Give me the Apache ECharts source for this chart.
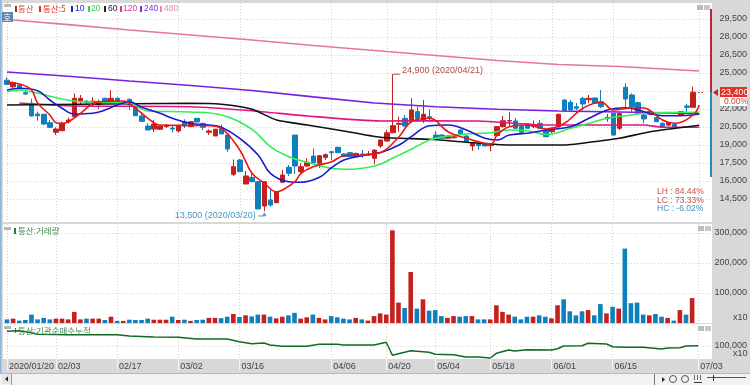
<!DOCTYPE html>
<html><head><meta charset="utf-8">
<style>html,body{margin:0;padding:0;background:#d8d8d8}#c{width:750px;height:385px}</style>
<script src="https://cdn.jsdelivr.net/npm/echarts@6/dist/echarts.min.js"></script>
</head><body><div id="c"></div>
<script>
const categories = ["2020/01/20","01/21","01/22","01/23","01/28","01/29","01/30","01/31",
"02/03","02/04","02/05","02/06","02/07","02/10","02/11","02/12","02/13","02/14",
"02/17","02/18","02/19","02/20","02/21","02/24","02/25","02/26","02/27","02/28",
"03/02","03/03","03/04","03/05","03/06","03/09","03/10","03/11","03/12","03/13",
"03/16","03/17","03/18","03/19","03/20","03/23","03/24","03/25","03/26","03/27",
"03/30","03/31","04/01","04/02","04/03","04/06","04/07","04/08","04/09","04/10",
"04/13","04/14","04/16","04/17","04/20","04/21","04/22","04/23","04/24","04/27","04/28","04/29",
"05/04","05/06","05/07","05/08","05/11","05/12","05/13","05/14","05/15",
"05/18","05/19","05/20","05/21","05/22","05/25","05/26","05/27","05/28","05/29",
"06/01","06/02","06/03","06/04","06/05","06/08","06/09","06/10","06/11","06/12",
"06/15","06/16","06/17","06/18","06/19","06/22","06/23","06/24","06/25","06/26",
"06/29","06/30","07/01","07/02","07/03","",""];
const tickDates = ["2020/01/20","02/03","02/17","03/02","03/16","04/06","04/20","05/04","05/18","06/01","06/15","07/03"];
const priceTicks = [14500,16000,17500,19000,20500,22000,23500,25000,26500,28000,29500];
const volumeTicks = [100000,200000,300000];
const netBuyTicks = [100000];
const opens = [24400,23850,24000,23350,22480,21580,21560,20860,20060,20190,20920,21360,22610,22650,22600,22380,22890,22530,22890,22480,22800,22140,21420,20580,20330,20310,20530,20410,20170,20940,20530,21220,20800,20060,19750,20390,19830,16560,17750,15750,16300,15940,13920,14420,14190,15890,17140,19830,16780,17250,18080,17480,17970,18440,18810,18250,18360,18030,18250,18200,17890,18920,19330,20020,20720,21220,21000,21780,21080,21360,19830,19830,19560,19600,20250,19750,18920,19100,19100,18950,19780,20530,21000,21000,20530,20750,20550,20800,20250,20110,20530,22750,22560,22190,22890,22780,22920,22610,21190,21640,20390,23810,23170,22530,21500,21560,21280,20800,20660,20720,21500,22250,22140];
const closes = [24050,24200,23700,23250,21420,21440,20750,20470,20330,20800,21080,22890,22890,22550,22650,22610,22560,22890,22610,22520,22390,21440,20970,20250,20750,20580,20660,20330,20580,20580,20940,20920,20470,20170,20310,19920,18670,17190,16780,16420,15940,13670,15940,14000,15110,16500,16640,17250,17190,17560,17520,18110,18190,18360,18360,18030,18030,18300,18180,18260,18580,19420,20020,20610,20800,20580,21920,21220,21560,21280,19560,19560,19750,19680,19920,19280,19140,18950,18920,19000,20530,21020,21040,20390,20060,20390,20620,20390,19690,20390,21560,21860,21920,22060,22420,22890,22480,22190,21310,19830,21640,22830,22190,21640,21170,21780,20940,20470,20860,20530,21780,22140,23400];
const lows = [24050,23750,23650,23200,21360,21020,20660,20470,19830,20190,20780,21300,22330,22400,22200,21990,22500,22450,22560,22400,21920,21440,20970,20250,20080,20250,20420,20050,20050,20400,20500,20900,20250,19830,19750,19920,18420,16420,16780,15750,15900,13670,13500,13850,14150,15850,16420,16580,16630,17200,17500,17080,17750,17750,18350,18000,18000,17980,17950,18100,17390,18750,19300,20000,20100,20550,20830,20930,20830,21050,19550,19550,19500,19550,19900,19250,18500,18600,18900,18480,19750,20450,20500,20390,20060,20380,20400,20380,19650,20000,20400,21850,21900,21920,21900,22480,22450,22060,20940,19800,20250,22140,21780,21620,20800,21500,20900,20450,20600,20500,21450,21640,22100];
const highs = [24650,24300,24050,23580,22860,21780,21600,21080,20470,20940,21300,23300,23170,22750,22990,22780,22950,23580,23000,22600,22900,22330,21580,20830,21080,20620,20750,20580,20660,21140,21000,21250,20850,20300,20350,20720,20000,17800,17830,16830,16750,16000,15960,15250,15150,16920,17330,19830,17480,17900,18700,18150,18300,18480,18850,18300,18400,18350,18600,18500,18600,19450,20250,24900,21360,21500,22890,22200,22750,21980,20170,19900,19800,19750,20300,19800,19200,19150,19150,19100,20560,21420,21730,21250,20580,20780,21050,21080,20300,20450,21600,22800,22750,22500,23000,23170,22950,23580,21580,21650,21680,24150,23300,22610,21800,21850,21350,20900,20900,20800,21800,22420,23860];
const volumes = [12000,14500,8000,10000,28000,12000,17000,12000,14500,14500,12000,37000,12000,14500,14500,14500,10000,21000,7000,7000,11000,10000,10000,14500,11000,11000,11000,21000,10000,11000,7000,10000,11000,17000,17000,16000,21000,30000,20000,25500,22000,28000,28000,21000,15500,21000,25500,34000,14500,19000,28000,17000,12000,23000,19000,14500,12000,17000,12000,8000,23000,32000,28000,309000,68000,50000,170000,48000,79000,41000,43000,23000,17000,23000,21000,23000,23000,12000,12000,12000,59000,37000,28000,21000,12000,21000,21000,25500,21000,15500,59000,79000,39000,25500,39000,43000,25500,63000,32000,54000,48000,248000,66000,68000,28000,25500,30000,21000,17000,8000,43000,28000,83000];
// moving averages: [bar number, price]
const ma5 = [[0,24225],[2,24083],[4,23583],[5,22500],[7,21500],[8,20858],[9,20808],[10,20942],[12,21642],[14,22475],[15,22608],[19,22667],[21,22058],[23,21225],[25,20667],[30,20625],[33,20608],[35,20392],[38,18583],[40,16642],[42,15808],[44,15108],[45,15250],[47,15942],[48,16642],[50,17192],[53,17608],[55,18108],[58,18167],[61,18375],[64,19692],[66,20942],[69,21225],[72,20108],[75,19558],[79,19083],[80,19833],[82,20525],[85,20667],[88,20333],[91,20808],[94,22058],[97,22558],[99,21917],[102,22083],[104,22083],[105,21858],[107,21083],[109,20808],[112,21500],[113,22333]];
const ma10 = [[0,23583],[2,23725],[5,23525],[7,22750],[9,22058],[11,21583],[14,21642],[16,21917],[18,22333],[20,22608],[22,22141],[25,21642],[27,21225],[30,20792],[33,20667],[35,20475],[38,19558],[41,18167],[43,16642],[46,15942],[48,15892],[51,16308],[53,17108],[55,17750],[58,18108],[61,18375],[64,19000],[66,19692],[69,20608],[72,20667],[75,20250],[78,19558],[80,19417],[82,19833],[85,19975],[88,20250],[92,20525],[95,21225],[98,21917],[101,22108],[104,21775],[107,21442],[110,21442],[113,21583]];
const ma20 = [[0,23442],[2,23583],[5,23308],[9,22833],[12,22608],[15,22558],[20,22475],[23,21833],[30,21750],[35,21500],[40,20308],[43,18858],[46,18025],[49,17558],[53,17058],[56,16975],[59,17142],[61,17417],[63,17917],[66,18642],[69,19417],[72,19750],[75,19917],[79,20025],[82,20250],[85,20192],[88,19875],[92,20392],[95,20808],[98,21225],[102,21500],[105,21692],[113,21725]];
const ma60 = [[0,22333],[30,22475],[35,22392],[40,21975],[44,21083],[49,20667],[54,20250],[61,19642],[69,19475],[75,19225],[82,19000],[91,19000],[97,19358],[100,19558],[105,20108],[113,20642]];
const ma120 = [[2,22500],[11,22250],[30,22192],[40,21858],[49,21417],[61,21000],[69,21025],[77,21000],[88,20667],[99,20667],[104,20667],[107,20475],[113,20475]];
const ma240 = [[0,25083],[10,24725],[20,24333],[30,23958],[40,23540],[50,23008],[60,22500],[70,22192],[80,21975],[90,21833],[100,21750],[113,21625]];
const ma480 = [[1,29417],[10,29033],[20,28583],[30,28167],[40,27750],[50,27292],[60,26875],[70,26458],[80,26042],[90,25708],[100,25542],[113,25167]];
const netBuy = [[0,114700],[2,115300],[4,113300],[5,111700],[10,111300],[18,111300],[20,110000],[24,109000],[28,108700],[31,107000],[36,107000],[38,104300],[40,102300],[42,103000],[43,101000],[45,99700],[49,99700],[51,101700],[54,101700],[55,101000],[60,101000],[62,103700],[63,90700],[66,95300],[69,93700],[70,91700],[73,91300],[75,89000],[77,89000],[79,88000],[80,92700],[82,96000],[83,95000],[85,96300],[89,96000],[90,97300],[91,100000],[94,100300],[95,102700],[98,102000],[99,99300],[101,98700],[104,98700],[107,97000],[108,98000],[110,98300],[111,100000],[113,100300]];

const RED='#c4201c', BLUE='#0e80bd', FONT='"Liberation Sans",sans-serif', KR='"Noto Sans CJK KR",sans-serif';
const isTick=(i,v)=>tickDates.includes(v);
const fmt=v=>v.toLocaleString('en-US');
const candles = opens.map((o,i)=>[o,closes[i],lows[i],highs[i]]);
const volBars = volumes.map((v,i)=>({value:v,itemStyle:{color:closes[i]>=opens[i]?RED:BLUE}}));
const dotted={show:true,interval:isTick,lineStyle:{color:'#cfcfcf',type:[1,2],width:1}};
const hDotted={show:true,lineStyle:{color:'#d4d4d4',type:[1,2],width:1}};
const xBase=(g)=>({type:'category',gridIndex:g,data:categories,boundaryGap:false,axisLine:{show:false},axisTick:{show:false},axisLabel:{show:false},splitLine:dotted});
const lineS=(name,data,color,smooth)=>({name,type:'line',data,showSymbol:false,smooth,lineStyle:{color,width:1.6},itemStyle:{color},emphasis:{disabled:true},silent:true,z:5});
const rect=(x,y,w,h,fill,z)=>({type:'rect',shape:{x,y,width:w,height:h},style:{fill},z:z===undefined?100:z,silent:true});
const txt=(x,y,text,fill,size,font)=>({type:'text',x,y,style:{text,fill,fontSize:size,fontFamily:font||FONT,verticalAlign:'middle'},z:101,silent:true});

const graphicEls=[
 rect(0,0,1.5,385,'#8db5dc',-1),
 rect(3,3,709,219,'#ffffff',-2),
 rect(3,224,709,99,'#ffffff',-2),
 rect(3,324,709,35,'#ffffff',-2),
 rect(0,373,750,1,'#9dbfe0',-1),
 rect(0,374,750,11,'#f2f2f2',-1),
 rect(2,374,9,10,'#e6e6e6',-1),
 rect(11,374,1,11,'#9a9a9a',-1),
 // legend
 rect(15,6,2,6,'#b02a26'),txt(18,9,'통산','#c9504c',8.5,KR),
 rect(39,6,2,6,'#e0302a'),txt(43,9,'통산:5','#e0302a',8.5,KR),
 rect(71,6,2,6,'#2222cc'),txt(75,9,'10','#2222cc',8.5),
 rect(88,6,2,6,'#33d155'),txt(91,9,'20','#33d155',8.5),
 rect(104,6,2,6,'#222222'),txt(108,9,'60','#222222',8.5),
 rect(120,6,2,6,'#e0359a'),txt(123,9,'120','#e0359a',8.5),
 rect(140,6,2,6,'#7a2fe0'),txt(144,9,'240','#7a2fe0',8.5),
 rect(160,6,2,6,'#e88aa8'),txt(164,9,'480','#e88aa8',8.5),
 // panel handles
 rect(4,4,7,3,'#b8b8b8'),rect(4,227,7,3,'#b8b8b8'),rect(4,326,7,3,'#b8b8b8'),
 rect(697,5,6,5,'#bdbdbd'),rect(704,5,6,5,'#c8c8c8'),
 rect(698,226,6,5,'#bdbdbd'),rect(705,226,6,5,'#c8c8c8'),
 rect(698,326,6,5,'#bdbdbd'),rect(705,326,6,5,'#c8c8c8'),
 rect(2,12,11,10,'#5f83b3'),
 txt(3,17.5,'호','#ffffff',9,KR),
 // price-range strip
 rect(710,9,2,83,'#c0272d'),rect(710,92,2,85,'#2a8ac0'),
 {type:'polygon',shape:{points:[[713,92.5],[718,89],[718,96]]},style:{fill:'#c0272d'},z:100,silent:true},
 rect(698,92,2,1,'#d05a5a'),rect(701,92,2,1,'#d05a5a'),
 rect(720,87,27,10,'#e03127'),
 txt(721,92.5,'23,400','#ffffff',9),
 rect(720,97,27,9,'#ffffff'),
 txt(724,102,'0.00%','#d63a32',8.5),
 txt(657,192,'LH : 84.44%','#c0504d',8.5),
 txt(657,200.5,'LC : 73.33%','#c0504d',8.5),
 txt(657,208.5,'HC : -6.02%','#3a92c8',8.5),
 // sub panel titles
 rect(14,228,2,6,'#2f7d3c'),
 txt(18,231,'통산:거래량','#3f8a50',8.5,KR),
 rect(13,330,5,1,'#2f7d3c'),rect(15,328,1,5,'#2f7d3c'),
 txt(18,330.5,'통산:기관순매수누적','#3f8a50',8.5,KR),
 txt(733,318,'x10','#444444',9),
 txt(733,354,'x10','#444444',9),
 // bottom toolbar
 {type:'polygon',shape:{points:[[5,379],[8,376.5],[8,381.5]]},style:{fill:'#222'},z:100,silent:true},
 rect(654,374,1,11,'#777'),
 {type:'polygon',shape:{points:[[662,377],[665,379.5],[662,382]]},style:{fill:'#222'},z:100,silent:true},
 {type:'circle',shape:{cx:673,cy:379,r:3.5},style:{fill:'none',stroke:'#555',lineWidth:1},z:100,silent:true},
 {type:'circle',shape:{cx:685,cy:379,r:3.5},style:{fill:'none',stroke:'#555',lineWidth:1},z:100,silent:true},
 rect(694,375,1,5,'#666'),rect(697,375,1,5,'#666'),rect(700,375,1,5,'#666'),
 rect(694,382,8,1,'#333'),
 rect(707,377,39,1,'#555'),rect(713,375,1,6,'#333')
];

const chart=echarts.init(document.getElementById('c'),null,{renderer:'canvas'});
chart.setOption({
 animation:false,
 backgroundColor:'#d8d8d8',
 textStyle:{fontFamily:FONT},
 grid:[
  {left:7,right:38,top:3,height:219},
  {left:7,right:38,top:224,height:99},
  {left:7,right:38,top:324,height:35}],
 xAxis:[xBase(0),xBase(1),Object.assign(xBase(2),{
   axisTick:{show:true,interval:isTick,length:11,lineStyle:{color:'#f4f4f4'}},
   axisLabel:{show:true,interval:isTick,showMinLabel:true,align:'left',margin:3,padding:[0,0,0,2],color:'#444',fontSize:9,fontFamily:FONT,hideOverlap:false}})],
 yAxis:[
  {type:'value',gridIndex:0,position:'right',min:12583,max:30833,scale:true,axisLine:{show:false},axisTick:{show:false,customValues:priceTicks},
   splitLine:hDotted,
   axisLabel:{customValues:priceTicks,margin:8,color:'#444',fontSize:9,fontFamily:FONT,formatter:fmt}},
  {type:'value',gridIndex:1,position:'right',min:0,max:330000,axisLine:{show:false},axisTick:{show:false,customValues:volumeTicks},
   splitLine:hDotted,axisLabel:{customValues:volumeTicks,margin:4,color:'#444',fontSize:9,fontFamily:FONT,formatter:fmt}},
  {type:'value',gridIndex:2,position:'right',min:87000,max:122000,axisLine:{show:false},axisTick:{show:false,customValues:netBuyTicks},
   splitLine:hDotted,axisLabel:{customValues:netBuyTicks,margin:4,color:'#444',fontSize:9,fontFamily:FONT,formatter:fmt}}],
 series:[
  {name:'통산',type:'candlestick',data:candles,barWidth:5,clip:false,z:3,
   itemStyle:{color:RED,color0:BLUE,borderColor:RED,borderColor0:BLUE,borderWidth:1},
   markPoint:{silent:true,animation:false,data:[
     {coord:['04/21',24900],symbol:'rect',symbolSize:[7,1],symbolOffset:[3.5,0],itemStyle:{color:'#b04a48'},
      label:{show:true,position:'right',distance:2,formatter:'24,900 (2020/04/21)',color:'#b04a48',fontSize:9,fontFamily:FONT,offset:[0,-4]}},
     {coord:['03/20',13500],symbol:'rect',symbolSize:[7,1],symbolOffset:[-3,5],itemStyle:{color:'#4a97c8'},
      label:{show:true,position:'left',distance:2,formatter:'13,500 (2020/03/20)',color:'#4a97c8',fontSize:9,fontFamily:FONT}},
     {coord:['03/20',13500],symbol:'triangle',symbolSize:[4,4],symbolOffset:[0,3],itemStyle:{color:'#4a97c8'},label:{show:false}}]}},
  lineS('480',ma480,'#e5789a',false),
  lineS('240',ma240,'#7a1fe0',false),
  lineS('120',ma120,'#e01585',0.2),
  lineS('60',ma60,'#111111',0.2),
  lineS('20',ma20,'#33ee55',0.4),
  lineS('10',ma10,'#1a1ad0',0.4),
  lineS('통산:5',ma5,'#ee1414',0.4),
  {name:'거래량',type:'bar',xAxisIndex:1,yAxisIndex:1,data:volBars,barWidth:4.6,silent:true},
  {name:'기관순매수누적',type:'line',xAxisIndex:2,yAxisIndex:2,data:netBuy,showSymbol:false,lineStyle:{color:'#0f6a22',width:1.5},itemStyle:{color:'#0f6a22'},silent:true}
 ],
 graphic:{elements:graphicEls}
});
</script></body></html>
